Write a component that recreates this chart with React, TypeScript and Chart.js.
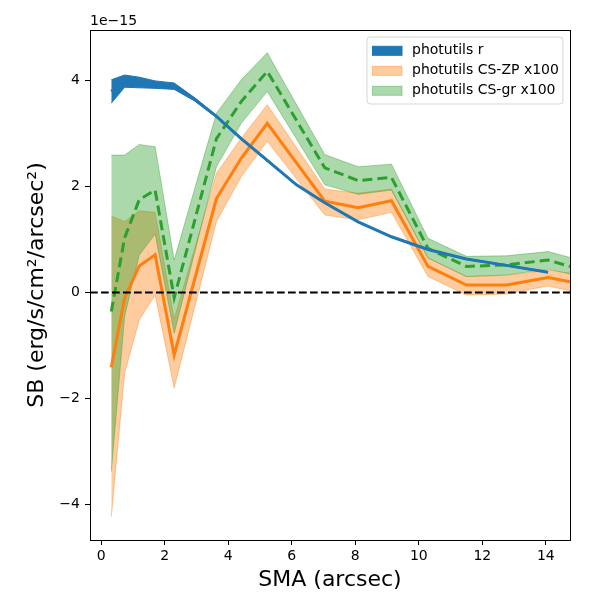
import { useEffect, useRef } from "react";
import { Chart, registerables } from "chart.js";

Chart.register(...registerables);

// SMA sample points (arcsec)
const blueSma = [0.32, 0.74, 1.2, 1.7, 2.3, 2.95, 3.63, 4.41, 5.23, 6.15, 7.04, 8.09, 9.14, 10.29, 11.5, 12.76, 14.07];
const csSma = [0.32, 0.74, 1.2, 1.7, 2.3, 3.63, 4.41, 5.23, 7.04, 8.09, 9.14, 10.29, 11.5, 12.76, 14.07, 14.76];

// photutils r (units of 1e-15)
const rMid = [3.79, 3.98, 3.95, 3.92, 3.89, 3.64, 3.32, 2.9, 2.49, 2.03, 1.69, 1.33, 1.05, 0.81, 0.63, 0.51, 0.38];
const rHi = [4.01, 4.1, 4.06, 3.99, 3.95, 3.67, 3.34, 2.92, 2.51, 2.04, 1.7, 1.34, 1.06, 0.82, 0.64, 0.52, 0.39];
const rLo = [3.57, 3.87, 3.86, 3.85, 3.83, 3.61, 3.3, 2.88, 2.47, 2.02, 1.68, 1.32, 1.04, 0.8, 0.62, 0.5, 0.37];

// photutils CS-ZP x100
const zpMid = [-1.41, -0.1, 0.5, 0.71, -1.18, 1.77, 2.53, 3.19, 1.72, 1.6, 1.73, 0.49, 0.14, 0.14, 0.28, 0.2];
const zpHi = [1.44, 1.34, 1.54, 1.51, -0.5, 2.25, 2.91, 3.54, 1.95, 1.87, 1.95, 0.65, 0.3, 0.32, 0.42, 0.36];
const zpLo = [-4.23, -1.52, -0.52, -0.05, -1.8, 1.34, 2.18, 2.85, 1.46, 1.37, 1.51, 0.3, -0.05, -0.03, 0.12, 0.03];

// photutils CS-gr x100
const grMid = [-0.36, 1.03, 1.75, 1.93, -0.1, 2.9, 3.6, 4.17, 2.35, 2.11, 2.17, 0.83, 0.49, 0.52, 0.61, 0.49];
const grHi = [2.59, 2.59, 2.79, 2.75, 0.61, 3.38, 4.01, 4.52, 2.6, 2.37, 2.42, 1.02, 0.68, 0.69, 0.77, 0.66];
const grLo = [-3.38, -0.45, 0.7, 1.1, -0.77, 2.37, 3.19, 3.79, 2.03, 1.85, 1.93, 0.65, 0.3, 0.33, 0.44, 0.35];

const xTicks = [0, 2, 4, 6, 8, 10, 12, 14];
const yTicks = [-4, -2, 0, 2, 4];

const BLUE = "#1f77b4";
const ORANGE = "#ff7f0e";
const GREEN = "#2ca02c";
const ORANGE_A = "rgba(255,127,14,0.4)";
const GREEN_A = "rgba(44,160,44,0.4)";

const legendItems = [
  { label: "photutils r", color: BLUE },
  { label: "photutils CS-ZP x100", color: ORANGE_A },
  { label: "photutils CS-gr x100", color: GREEN_A },
];

const FONT = "'DejaVu Sans', sans-serif";

const pts = (xs: number[], ys: number[]) => xs.map((x, i) => ({ x, y: ys[i] }));
const minus = (v: number) => String(v).replace("-", "\u2212");

const decorations = {
  id: "decorations",
  afterDatasetsDraw(chart: any) {
    const { ctx, chartArea, scales } = chart;
    const y0 = scales.y.getPixelForValue(0);
    ctx.save();
    ctx.strokeStyle = "#000";
    ctx.lineWidth = 2;
    ctx.setLineDash([7.7, 3.3]);
    ctx.beginPath();
    ctx.moveTo(chartArea.left, y0);
    ctx.lineTo(chartArea.right, y0);
    ctx.stroke();
    ctx.restore();
  },
  afterDraw(chart: any) {
    const { ctx, chartArea } = chart;
    ctx.save();
    // frame
    ctx.strokeStyle = "#000";
    ctx.lineWidth = 1;
    ctx.strokeRect(
      Math.round(chartArea.left) + 0.5,
      Math.round(chartArea.top) + 0.5,
      Math.round(chartArea.right - chartArea.left),
      Math.round(chartArea.bottom - chartArea.top)
    );
    // offset text
    ctx.fillStyle = "#000";
    ctx.font = `14px ${FONT}`;
    ctx.textAlign = "left";
    ctx.textBaseline = "alphabetic";
    ctx.fillText("1e\u221215", chartArea.left, chartArea.top - 5);

    // legend
    const w = 196;
    const h = 67;
    const x = chartArea.right - 7 - w;
    const y = chartArea.top + 7;
    ctx.beginPath();
    ctx.roundRect(x, y, w, h, 3);
    ctx.fillStyle = "rgba(255,255,255,0.8)";
    ctx.fill();
    ctx.strokeStyle = "rgba(204,204,204,0.8)";
    ctx.stroke();
    legendItems.forEach((item, i) => {
      const cy = y + 13.8 + i * 20;
      ctx.fillStyle = item.color;
      ctx.fillRect(x + 5.5, cy - 4.5, 29.5, 9);
      ctx.strokeStyle = item.color;
      ctx.strokeRect(x + 5.5, cy - 4.5, 29.5, 9);
      ctx.fillStyle = "#000";
      ctx.textBaseline = "middle";
      ctx.fillText(item.label, x + 45, cy);
    });
    ctx.restore();
  },
};

const band = (xs: number[], hi: number[], lo: number[], color: string, order: number) => [
  {
    data: pts(xs, hi),
    fill: "+1",
    backgroundColor: color,
    borderColor: color,
    borderWidth: 1,
    order,
  },
  {
    data: pts(xs, lo),
    fill: false,
    backgroundColor: color,
    borderColor: color,
    borderWidth: 1,
    order,
  },
];

export default function App() {
  const canvasRef = useRef<HTMLCanvasElement | null>(null);

  useEffect(() => {
    if (!canvasRef.current) return;
    const ctx = canvasRef.current.getContext("2d");
    if (!ctx) return;

    const chart = new Chart(ctx, {
      type: "line",
      data: {
        datasets: [
          ...band(blueSma, rHi, rLo, BLUE, 8),
          ...band(csSma, zpHi, zpLo, ORANGE_A, 7),
          ...band(csSma, grHi, grLo, GREEN_A, 6),
          {
            data: pts(csSma, zpMid),
            borderColor: ORANGE,
            borderWidth: 3,
            fill: false,
            order: 3,
          },
          {
            data: pts(csSma, grMid),
            borderColor: GREEN,
            borderWidth: 3,
            borderDash: [10, 5],
            fill: false,
            order: 2,
          },
          {
            data: pts(blueSma, rMid),
            borderColor: BLUE,
            borderWidth: 3,
            fill: false,
            order: 1,
          },
        ] as any,
      },
      options: {
        animation: false,
        responsive: false,
        events: [],
        layout: { padding: { top: 30, right: 30, left: 0, bottom: 0 } },
        elements: {
          point: { radius: 0 },
          line: { tension: 0, borderCapStyle: "butt", borderJoinStyle: "miter" },
        },
        plugins: {
          legend: { display: false },
          tooltip: { enabled: false },
        },
        scales: {
          x: {
            type: "linear",
            min: -0.35,
            max: 14.76,
            afterFit: (s: any) => {
              s.height = 60;
            },
            afterBuildTicks: (s: any) => {
              s.ticks = xTicks.map((value) => ({ value }));
            },
            grid: { drawOnChartArea: false, drawTicks: true, tickLength: 5, tickColor: "#000" },
            border: { display: false },
            ticks: {
              color: "#000",
              font: { family: FONT, size: 14 },
              padding: 3,
              maxRotation: 0,
              callback: (v: any) => minus(v),
            },
            title: {
              display: true,
              text: "SMA (arcsec)",
              color: "#000",
              font: { family: FONT, size: 22 },
              padding: { top: 0, bottom: 7 },
            },
          },
          y: {
            type: "linear",
            min: -4.67,
            max: 4.95,
            afterFit: (s: any) => {
              s.width = 90;
            },
            afterBuildTicks: (s: any) => {
              s.ticks = yTicks.map((value) => ({ value }));
            },
            grid: { drawOnChartArea: false, drawTicks: true, tickLength: 5, tickColor: "#000" },
            border: { display: false },
            ticks: {
              color: "#000",
              font: { family: FONT, size: 14 },
              padding: 5,
              callback: (v: any) => minus(v),
            },
            title: {
              display: true,
              text: "SB (erg/s/cm\u00b2/arcsec\u00b2)",
              color: "#000",
              font: { family: FONT, size: 22 },
              padding: { top: 24, bottom: 0 },
            },
          },
        },
      },
      plugins: [decorations],
    });

    return () => chart.destroy();
  }, []);

  return (
    <div
      style={{
        position: "absolute",
        left: 0,
        top: 0,
        width: 600,
        height: 600,
        background: "#fff",
      }}
    >
      <canvas ref={canvasRef} width={600} height={600} />
    </div>
  );
}
